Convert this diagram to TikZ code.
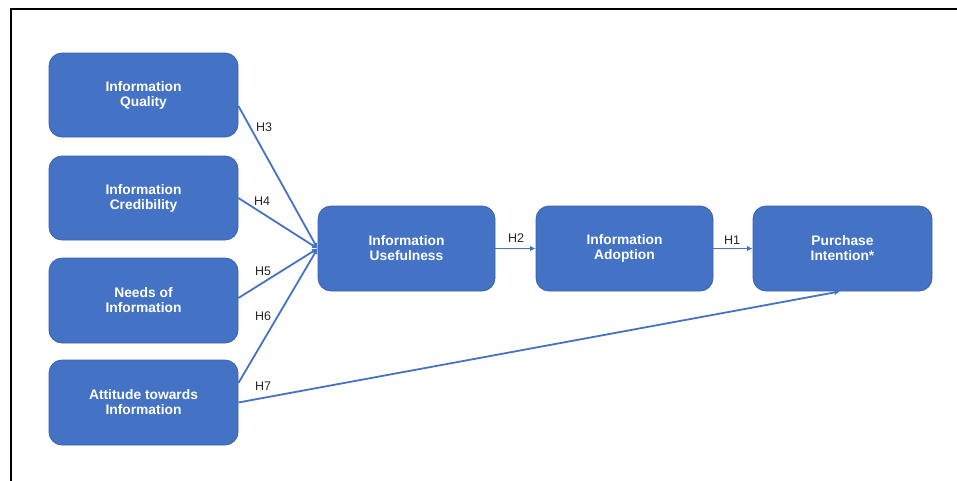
\documentclass[tikz,border=0pt]{standalone}
\usepackage{fontspec}
\setmainfont{Liberation Sans}
\usetikzlibrary{arrows.meta}
\definecolor{boxfill}{HTML}{4472C4}
\definecolor{boxline}{HTML}{3A62AA}
\definecolor{arrowc}{HTML}{4472C4}
\begin{document}
\begin{tikzpicture}[x=1pt,y=-1pt,
  mybox/.style={rectangle, rounded corners=13pt, fill=boxfill, draw=boxline, line width=0.8pt,
    text=white, font=\fontsize{13.8}{15}\selectfont\bfseries, align=center, inner sep=0pt},
  link/.style={draw=arrowc, line width=1.8pt, -{Latex[length=5.5pt,width=5.5pt]}},
  hlab/.style={font=\fontsize{12.5}{14}\selectfont, text=black!85, inner sep=0pt}]
\useasboundingbox (0,0) rectangle (957,480);
\draw[line width=1.6pt, black] (11,481) -- (11,9) -- (958,9);
\node[mybox, minimum width=189pt, minimum height=84pt] (IQ) at (143.5,95) {Information\\Quality};
\node[mybox, minimum width=189pt, minimum height=84pt] (IC) at (143.5,198) {Information\\Credibility};
\node[mybox, minimum width=189pt, minimum height=85pt] (NI) at (143.5,300.5) {Needs of\\Information};
\node[mybox, minimum width=189pt, minimum height=85pt] (AT) at (143.5,402.5) {Attitude towards\\Information};
\node[mybox, minimum width=177pt, minimum height=85pt] (IU) at (406.5,248.5) {Information\\Usefulness};
\node[mybox, minimum width=177pt, minimum height=85pt] (IA) at (624.5,248.5) {Information\\Adoption};
\node[mybox, minimum width=179pt, minimum height=85pt] (PI) at (842.5,248.5) {Purchase\\Intention*};
\draw[link] ([yshift=-11pt]IQ.east) -- (IU.west);
\draw[link] (IC.east) -- (IU.west);
\draw[link] ([yshift=2.5pt]NI.east) -- (IU.west);
\draw[link] ([yshift=19.5pt]AT.east) -- (IU.west);
\draw[link] (AT.east) -- ([xshift=-2.5pt]PI.south);
\draw[link] (IU.east) -- (IA.west);
\draw[link] (IA.east) -- (PI.west);
\node[hlab] (h3) at (264,127) {H3};
\node[hlab] (h4) at (262,201) {H4};
\node[hlab] (h5) at (263,271) {H5};
\node[hlab] (h6) at (263,316) {H6};
\node[hlab] (h7) at (263,386) {H7};
\node[hlab] (h2) at (516,238) {H2};
\node[hlab] (h1) at (732,240) {H1};
\end{tikzpicture}
\end{document}
